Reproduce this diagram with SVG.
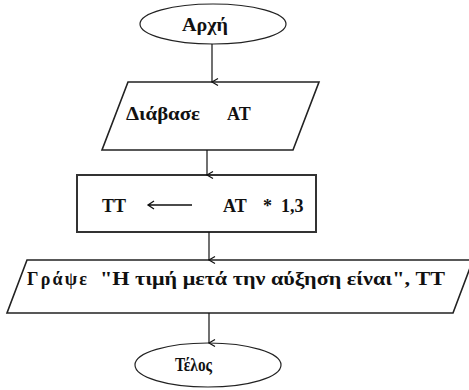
<svg xmlns="http://www.w3.org/2000/svg" width="469" height="390" viewBox="0 0 469 390">
  <defs>
    <marker id="arrow" markerWidth="10" markerHeight="10" refX="5" refY="8" orient="auto" markerUnits="userSpaceOnUse" viewBox="0 0 10 10">
      <path d="M1.5,2 L5,8 L8.5,2" fill="none" stroke="#111" stroke-width="1.2"/>
    </marker>
  </defs>
  <style>
    .term { fill: #fff; stroke: #222; stroke-width: 1.2; }
    .io { fill: #fff; stroke: #222; stroke-width: 1.6; }
    .proc { fill: #fff; stroke: #333; stroke-width: 2; }
    text { font-family: 'Liberation Serif', 'DejaVu Serif', 'Times New Roman', serif; font-weight: bold; font-size: 18px; fill: #111; }
    .conn { stroke: #111; stroke-width: 1.2; fill: none; marker-end: url(#arrow); }
  </style>
  <rect width="469" height="390" fill="#fff"/>

  <g id="start">
    <ellipse class="term" cx="213" cy="24" rx="73" ry="20"/>
    <text x="182" y="31" textLength="46" lengthAdjust="spacingAndGlyphs">Αρχή</text>
  </g>

  <g id="input">
    <polygon class="io" points="128,82 319,82 293,150 102,150"/>
    <text x="126" y="120" textLength="74" lengthAdjust="spacingAndGlyphs">Διάβασε</text>
    <text x="227" y="120">AT</text>
  </g>

  <g id="assign">
    <rect class="proc" x="77" y="175" width="239" height="57"/>
    <text x="102" y="212">TT</text>
    <path d="M148,205 L192,205 M154,201 L148,205 L154,209" fill="none" stroke="#111" stroke-width="1.3"/>
    <text x="223" y="212">AT</text>
    <text x="263" y="212">*</text>
    <text x="281" y="212" font-size="19">1,3</text>
  </g>

  <g id="output">
    <polygon class="io" points="27,260 473,260 453,313 7,313"/>
    <text x="27" y="285" textLength="60" lengthAdjust="spacing">Γράψε</text>
    <text x="100" y="285" textLength="345" lengthAdjust="spacingAndGlyphs">"Η τιμή μετά την αύξηση είναι", TT</text>
  </g>

  <g id="end">
    <ellipse class="term" cx="208" cy="365" rx="73" ry="22"/>
    <text x="175" y="371" textLength="37" lengthAdjust="spacingAndGlyphs">Τέλος</text>
  </g>

  <g id="connectors">
    <line class="conn" x1="212" y1="44" x2="212" y2="82"/>
    <line class="conn" x1="207" y1="150" x2="207" y2="175"/>
    <line class="conn" x1="209" y1="232" x2="209" y2="260"/>
    <line class="conn" x1="209" y1="313" x2="209" y2="343"/>
  </g>
</svg>
